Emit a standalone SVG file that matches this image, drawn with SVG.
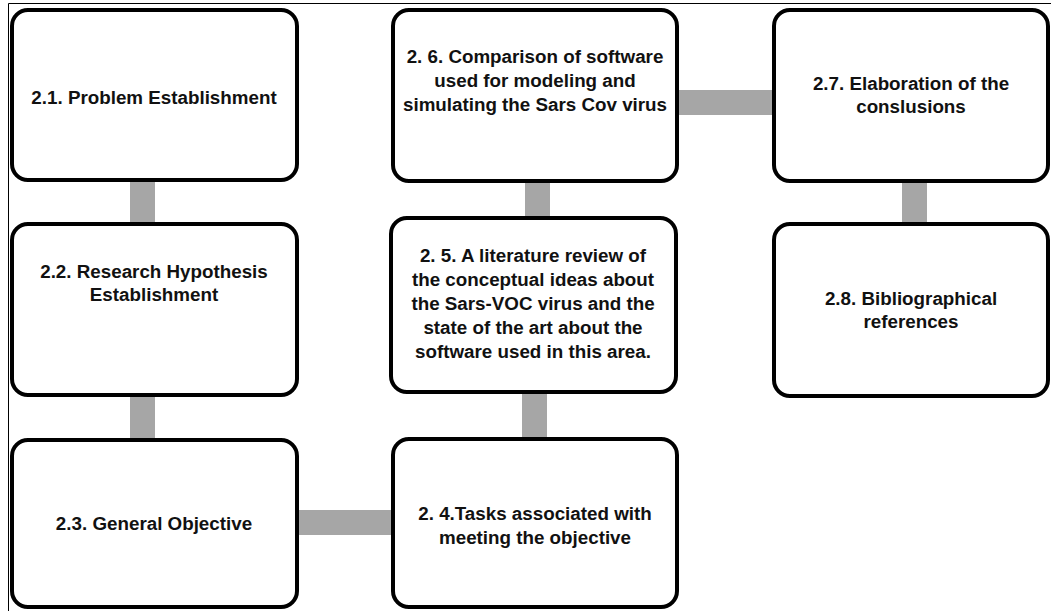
<svg xmlns="http://www.w3.org/2000/svg" width="1051" height="611" viewBox="0 0 1051 611">
<style>
.box{fill:#fff;stroke:#000;stroke-width:4}
.conn{fill:#a6a6a6}
text{font-family:"Liberation Sans",Arial,sans-serif;font-weight:bold;font-size:18.8px;fill:#111;text-anchor:middle}
</style>
<rect x="0" y="0" width="1051" height="611" fill="#fff"/>
<path d="M8.5 611 V3.5 H1051" fill="none" stroke="#000" stroke-width="1"/>
<g id="connectors">
<rect class="conn" x="130" y="182" width="25" height="41"/>
<rect class="conn" x="130" y="395" width="25" height="45"/>
<rect class="conn" x="298" y="510" width="94" height="25"/>
<rect class="conn" x="522" y="392" width="25" height="46"/>
<rect class="conn" x="525" y="182" width="25" height="36"/>
<rect class="conn" x="678" y="90" width="95" height="25"/>
<rect class="conn" x="902" y="181" width="25" height="43"/>
</g>
<g id="n21"><rect class="box" x="12" y="10" width="285" height="170" rx="16"/><text x="154" y="104">2.1. Problem Establishment</text></g>
<g id="n22"><rect class="box" x="12" y="224" width="285" height="171" rx="16"/><text x="154" y="278">2.2. Research Hypothesis</text><text x="154" y="301">Establishment</text></g>
<g id="n23"><rect class="box" x="12" y="440" width="285" height="167" rx="16"/><text x="154" y="530">2.3. General Objective</text></g>
<g id="n24"><rect class="box" x="393" y="439" width="284" height="168" rx="16"/><text x="535" y="520">2. 4.Tasks associated with</text><text x="535" y="544">meeting the objective</text></g>
<g id="n25"><rect class="box" x="391" y="218" width="285" height="174" rx="16"/><text x="533" y="262">2. 5. A literature review of</text><text x="533" y="286">the conceptual ideas about</text><text x="533" y="310">the Sars-VOC virus and the</text><text x="533" y="334">state of the art about the</text><text x="533" y="358">software used in this area.</text></g>
<g id="n26"><rect class="box" x="393" y="10" width="284" height="171" rx="16"/><text x="535" y="63">2. 6. Comparison of software</text><text x="535" y="87">used for modeling and</text><text x="535" y="111">simulating the Sars Cov virus</text></g>
<g id="n27"><rect class="box" x="774" y="10" width="274" height="171" rx="16"/><text x="911" y="90">2.7. Elaboration of the</text><text x="911" y="113">conslusions</text></g>
<g id="n28"><rect class="box" x="774" y="224" width="274" height="172" rx="16"/><text x="911" y="305">2.8. Bibliographical</text><text x="911" y="328">references</text></g>
</svg>
